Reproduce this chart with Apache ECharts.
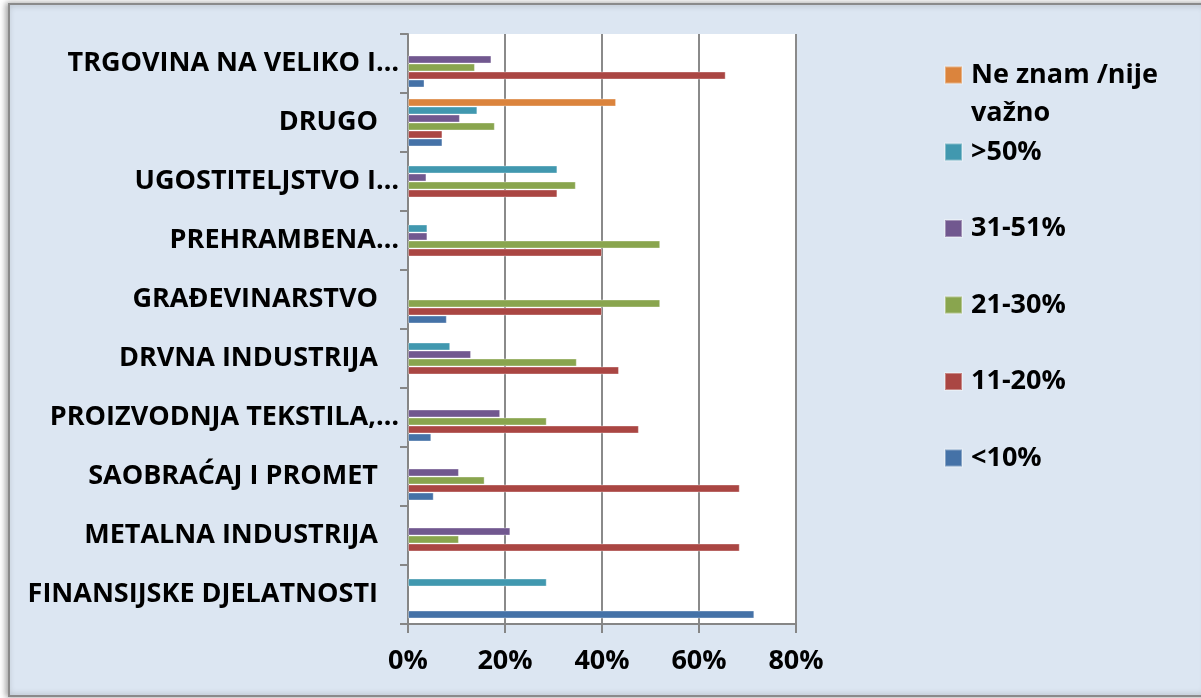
<!DOCTYPE html>
<html>
<head>
<meta charset="utf-8">
<script src="https://cdn.jsdelivr.net/npm/echarts@6/dist/echarts.min.js"></script>
<style>
html,body{margin:0;padding:0;background:#fff;}
#c{width:1201px;height:698px;}
</style>
</head>
<body>
<div id="c"></div>
<script>
// Categories listed bottom to top
const categories = ['FINANSIJSKE DJELATNOSTI', 'METALNA INDUSTRIJA', 'SAOBRAĆAJ I PROMET', 'PROIZVODNJA TEKSTILA,…', 'DRVNA INDUSTRIJA', 'GRAĐEVINARSTVO', 'PREHRAMBENA…', 'UGOSTITELJSTVO I…', 'DRUGO', 'TRGOVINA NA VELIKO I…'];
const seriesNames = ['Ne znam /nije važno', '>50%', '31-51%', '21-30%', '11-20%', '<10%'];
const neZnam   = [null, null, null, null, null, null, null, null, 42.9, null];
const over50   = [28.6, null, null, null, 8.7, null, 4.0, 30.8, 14.3, null];
const p31to51  = [null, 21.1, 10.5, 19.0, 13.0, null, 4.0, 3.8, 10.7, 17.2];
const p21to30  = [null, 10.5, 15.8, 28.6, 34.8, 52.0, 52.0, 34.6, 17.9, 13.8];
const p11to20  = [null, 68.4, 68.4, 47.6, 43.5, 40.0, 40.0, 30.8, 7.1, 65.5];
const under10  = [71.4, null, 5.3, 4.8, null, 8.0, null, null, 7.1, 3.4];
const xTicks = [0, 20, 40, 60, 80];

const seriesData = [neZnam, over50, p31to51, p21to30, p11to20, under10];
const colors = ['#db843d', '#4198af', '#71588f', '#89a54e', '#aa4643', '#4572a7'];

const FONT = 'Open Sans';
const FS = 27;
const chart = echarts.init(document.getElementById('c'), null, {renderer: 'canvas'});

const series = seriesNames.map((n, i) => ({
  name: n,
  type: 'bar',
  data: seriesData[i],
  barWidth: 8,
  barGap: '0%',
  itemStyle: {color: colors[i], borderColor: 'rgba(255,255,255,0.35)', borderWidth: 1},
  emphasis: {disabled: true}
}));

chart.setOption({
  backgroundColor: '#ffffff',
  animation: false,
  color: colors,
  graphic: [{
    type: 'rect',
    z: -10,
    shape: {x: 9, y: 4, width: 1200, height: 692},
    style: {fill: '#dce6f2', stroke: '#8a8a8a', lineWidth: 2, shadowBlur: 6, shadowColor: 'rgba(0,0,0,0.35)', shadowOffsetX: -2}
  }],
  grid: {left: 408, right: 405, top: 34, bottom: 74, show: true, backgroundColor: '#ffffff', borderWidth: 0},
  xAxis: {
    type: 'value', min: xTicks[0], max: xTicks[xTicks.length - 1], interval: 20,
    axisLine: {show: true, lineStyle: {color: '#868686', width: 2}},
    axisTick: {show: true, length: 9, lineStyle: {color: '#868686', width: 2}},
    splitLine: {show: true, lineStyle: {color: '#8a8a8a', width: 2}},
    axisLabel: {formatter: '{value}%', color: '#000', fontFamily: FONT, fontWeight: 'bold', fontSize: FS, margin: 24}
  },
  yAxis: {
    type: 'category', data: categories,
    axisLine: {show: true, lineStyle: {color: '#868686', width: 2}},
    axisTick: {show: true, length: 8, lineStyle: {color: '#868686', width: 2}},
    axisLabel: {
      color: '#000', fontFamily: FONT, fontWeight: 'bold', fontSize: FS, margin: 9,
      formatter: v => v.endsWith('…') ? '{a|' + v + '}' : '{b|' + v + '}',
      rich: {
        a: {color: '#000', fontFamily: FONT, fontWeight: 'bold', fontSize: FS},
        b: {color: '#000', fontFamily: FONT, fontWeight: 'bold', fontSize: FS, padding: [0, 21, 0, 0]}
      }
    }
  },
  legend: [{
    data: [seriesNames[0]],
    orient: 'vertical', left: 944, top: 18, padding: 0,
    itemWidth: 17, itemHeight: 17, icon: 'rect',
    formatter: n => '\n' + n.replace(' važno', '\nvažno'),
    textStyle: {color: '#000', fontFamily: FONT, fontWeight: 'bold', fontSize: FS, lineHeight: 38, padding: [0, 0, 0, 4]},
    selectedMode: false
  }, {
    data: seriesNames.slice(1),
    orient: 'vertical', left: 944, top: 137, itemGap: 46.5, padding: 0,
    itemWidth: 17, itemHeight: 17, icon: 'rect',
    textStyle: {color: '#000', fontFamily: FONT, fontWeight: 'bold', fontSize: FS, lineHeight: 30, padding: [0, 0, 0, 4]},
    selectedMode: false
  }],
  series: series
});
</script>
</body>
</html>
